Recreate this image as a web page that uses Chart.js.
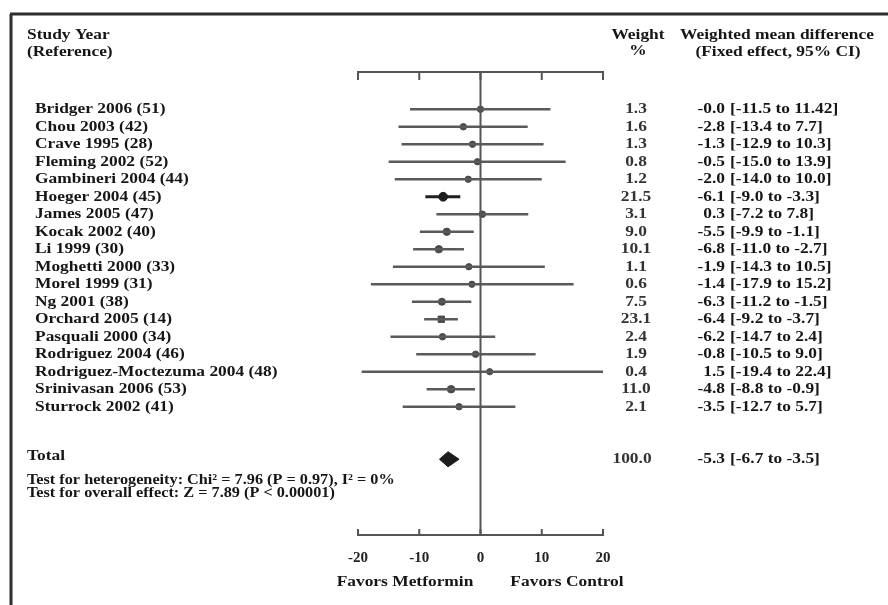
<!DOCTYPE html>
<html><head><meta charset="utf-8">
<script src="https://cdn.jsdelivr.net/npm/chart.js@4.4.1/dist/chart.umd.min.js"></script>
<style>html,body{margin:0;padding:0;background:#fff;}#wrap{width:888px;height:605px;position:relative;}</style>
</head><body><div id="wrap"><canvas id="c" width="888" height="605"></canvas></div>
<script>
// ---- data ----
const studies = ['Bridger 2006 (51)','Chou 2003 (42)','Crave 1995 (28)','Fleming 2002 (52)','Gambineri 2004 (44)','Hoeger 2004 (45)','James 2005 (47)','Kocak 2002 (40)','Li 1999 (30)','Moghetti 2000 (33)','Morel 1999 (31)','Ng 2001 (38)','Orchard 2005 (14)','Pasquali 2000 (34)','Rodriguez 2004 (46)','Rodriguez-Moctezuma 2004 (48)','Srinivasan 2006 (53)','Sturrock 2002 (41)'];
const means   = [-0.0, -2.8, -1.3, -0.5, -2.0, -6.1, 0.3, -5.5, -6.8, -1.9, -1.4, -6.3, -6.4, -6.2, -0.8, 1.5, -4.8, -3.5];
const lows    = [-11.5, -13.4, -12.9, -15.0, -14.0, -9.0, -7.2, -9.9, -11.0, -14.3, -17.9, -11.2, -9.2, -14.7, -10.5, -19.4, -8.8, -12.7];
const highs   = [11.42, 7.7, 10.3, 13.9, 10.0, -3.3, 7.8, -1.1, -2.7, 10.5, 15.2, -1.5, -3.7, 2.4, 9.0, 22.4, -0.9, 5.7];
const weights = [1.3, 1.6, 1.3, 0.8, 1.2, 21.5, 3.1, 9.0, 10.1, 1.1, 0.6, 7.5, 23.1, 2.4, 1.9, 0.4, 11.0, 2.1];
const totalLabel = 'Total';
const totalMean = -5.3, totalLow = -6.7, totalHigh = -3.5, totalWeight = 100.0;
const xTicks = [-20, -10, 0, 10, 20];
const heterogeneityText = 'Test for heterogeneity: Chi\u00B2 = 7.96 (P = 0.97), I\u00B2 = 0%';
const overallText = 'Test for overall effect: Z = 7.89 (P < 0.00001)';
const favorsLeft = 'Favors Metformin', favorsRight = 'Favors Control';

// ---- layout constants ----
const yMin = -2.13, yMax = 24.33;
const totalRow = studies.length + 2;
const FONT = 'Liberation Serif';
const SX = 1.16;
const lineGray = '#5a5a5a';

function fmt(v){
  const neg = v < 0 || Object.is(v, -0);
  const a = Math.abs(v);
  const s = (Math.abs(Math.round(a*10) - a*10) < 1e-9) ? a.toFixed(1) : String(a);
  return (neg ? '-' : '') + s;
}
function txt(ctx, s, x, y, align, size, color, weight){
  ctx.save();
  ctx.font = (weight||'bold') + ' ' + size + 'px "' + FONT + '"';
  ctx.fillStyle = color || '#161616';
  ctx.textBaseline = 'middle';
  ctx.textAlign = 'left';
  const w = ctx.measureText(s).width * SX;
  const x0 = align === 'center' ? x - w/2 : (align === 'right' ? x - w : x);
  ctx.translate(x0, y); ctx.scale(SX, 1);
  ctx.fillText(s, 0, 0);
  ctx.restore();
}

const datasets = [];
// zero line
datasets.push({data:[{x:0,y:yMin},{x:0,y:yMax}], showLine:true, borderColor:'#555', borderWidth:2, pointRadius:0});
// CI lines
studies.forEach((s,i)=>{
  const dark = s.startsWith('Hoeger');
  datasets.push({data:[{x:lows[i],y:i},{x:highs[i],y:i}], showLine:true, borderColor: dark ? '#1e1e1e' : lineGray, borderWidth: dark ? 3 : 2.5, pointRadius:0});
});
// point estimates
datasets.push({
  data: means.map((m,i)=>({x:m,y:i})),
  pointRadius: weights.map(w => 3.1 + w*0.06),
  pointStyle: studies.map(s => s.startsWith('Orchard') ? 'rect' : 'circle'),
  backgroundColor: studies.map(s => s.startsWith('Hoeger') ? '#1e1e1e' : '#4a4a4a'),
  borderColor: studies.map(s => s.startsWith('Hoeger') ? '#1e1e1e' : '#4a4a4a'),
  borderWidth: 1, showLine:false
});
// total diamond
datasets.push({
  data:[{x:totalLow,y:totalRow},{x:totalMean,y:totalRow-0.43},{x:totalHigh,y:totalRow},{x:totalMean,y:totalRow+0.43},{x:totalLow,y:totalRow}],
  showLine:true, fill:'shape', backgroundColor:'#1c1c1c', borderColor:'#1c1c1c', borderWidth:1, pointRadius:0, tension:0
});

const textPlugin = {
  id:'forestText',
  beforeDraw(chart){
    const ctx = chart.ctx;
    ctx.save();
    ctx.fillStyle = '#fff'; ctx.fillRect(0,0,chart.width,chart.height);
    ctx.strokeStyle = '#2e2e2e'; ctx.lineWidth = 3;
    ctx.beginPath(); ctx.moveTo(10,14); ctx.lineTo(888,14); ctx.stroke();
    ctx.beginPath(); ctx.moveTo(11,14); ctx.lineTo(11,605); ctx.stroke();
    ctx.restore();
  },
  afterDraw(chart){
    const ctx = chart.ctx;
    const xs = chart.scales.x, ys = chart.scales.y;
    const top = chart.chartArea.top, bottom = chart.chartArea.bottom;
    // inward tick marks
    ctx.save(); ctx.strokeStyle = '#555'; ctx.lineWidth = 2;
    xTicks.forEach(v=>{
      const px = xs.getPixelForValue(v);
      ctx.beginPath(); ctx.moveTo(px, top); ctx.lineTo(px, top+8); ctx.stroke();
      ctx.beginPath(); ctx.moveTo(px, bottom); ctx.lineTo(px, bottom-6); ctx.stroke();
    });
    ctx.restore();
    // headers
    txt(ctx,'Study Year',27,35,'left',15);
    txt(ctx,'(Reference)',27,52,'left',15);
    txt(ctx,'Weight',638,35,'center',15);
    txt(ctx,'%',638,51,'center',15);
    txt(ctx,'Weighted mean difference',777,35,'center',15);
    txt(ctx,'(Fixed effect, 95% CI)',778,52,'center',15);
    // rows
    studies.forEach((s,i)=>{
      const py = ys.getPixelForValue(i);
      txt(ctx,s,35,py,'left',15);
      txt(ctx,weights[i].toFixed(1),636,py,'center',15,'#333');
      txt(ctx,fmt(means[i]),725,py,'right',15);
      txt(ctx,'[' + fmt(lows[i]) + ' to ' + fmt(highs[i]) + ']',730,py,'left',15);
    });
    const ty = ys.getPixelForValue(totalRow);
    txt(ctx,totalLabel,27,ty-3,'left',15);
    txt(ctx,totalWeight.toFixed(1),632,ty,'center',15,'#333');
    txt(ctx,fmt(totalMean),725,ty,'right',15);
    txt(ctx,'[' + fmt(totalLow) + ' to ' + fmt(totalHigh) + ']',730,ty,'left',15);
    txt(ctx,heterogeneityText,27,480,'left',14);
    txt(ctx,overallText,27,493,'left',14);
    txt(ctx,favorsLeft,405,582,'center',15);
    txt(ctx,favorsRight,567,582,'center',15);
  }
};

new Chart(document.getElementById('c'), {
  type:'scatter',
  data:{datasets},
  options:{
    responsive:false, animation:false, devicePixelRatio:1,
    layout:{padding:{left:358,right:285,top:72,bottom:40}},
    plugins:{legend:{display:false}, tooltip:{enabled:false}},
    scales:{
      x:{type:'linear', position:'bottom', min:-20, max:20,
         afterFit(s){ s.height = 30; },
         ticks:{stepSize:10, color:'#222', padding:14, font:{family:FONT, size:15, weight:'bold'}},
         grid:{drawOnChartArea:false, drawTicks:false},
         border:{display:true, color:'#555', width:2}},
      x2:{type:'linear', position:'top', min:-20, max:20,
         afterFit(s){ s.height = 0; },
         ticks:{display:false, stepSize:10},
         grid:{drawOnChartArea:false, drawTicks:false},
         border:{display:true, color:'#555', width:2}},
      y:{type:'linear', display:false, reverse:true, min:yMin, max:yMax}
    }
  },
  plugins:[textPlugin]
});
</script></body></html>
